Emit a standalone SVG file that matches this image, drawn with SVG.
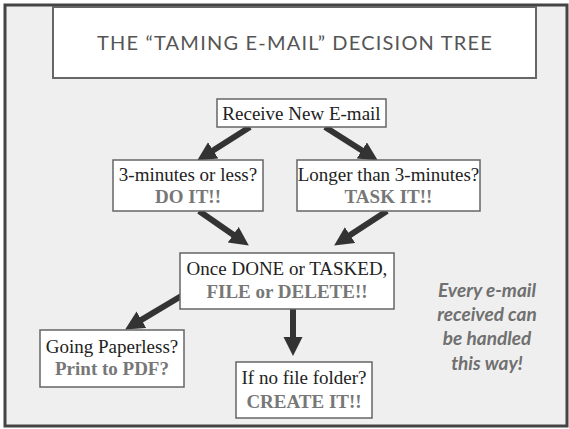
<svg xmlns="http://www.w3.org/2000/svg" width="569" height="429" viewBox="0 0 569 429">
<style>
.box{fill:#fff;stroke:#666;stroke-width:1.5}
.t{font-family:"Liberation Serif","Times New Roman",serif;font-size:19px;fill:#222;text-anchor:middle}
.b{font-family:"Liberation Serif","Times New Roman",serif;font-size:19px;font-weight:bold;fill:#777;text-anchor:middle}
.arr{stroke:#333;stroke-width:6;fill:none;marker-end:url(#ah)}
.side{font-family:Lato,"Open Sans",sans-serif;font-size:19px;font-weight:bold;font-style:italic;fill:#707070;text-anchor:middle}
</style>
<defs>
<marker id="ah" markerUnits="userSpaceOnUse" markerWidth="20" markerHeight="20" refX="4" refY="9.5" orient="auto">
<path d="M0,0 L19,9.5 L0,19 z" fill="#333"/>
</marker>
</defs>
<rect x="0" y="0" width="569" height="429" fill="#fff"/>
<rect x="5" y="5" width="562" height="421" fill="#efefef" stroke="#444" stroke-width="3"/>
<g id="title">
<rect x="53" y="7" width="483" height="71" fill="#fff" stroke="#666" stroke-width="2"/>
<text x="295" y="50" font-family="Lato,'Open Sans',sans-serif" font-size="20" fill="#555" text-anchor="middle" letter-spacing="1.2">THE “TAMING E-MAIL” DECISION TREE</text>
</g>
<g id="connectors">
<line class="arr" x1="250" y1="127" x2="209.8" y2="152.5"/>
<line class="arr" x1="325" y1="127" x2="365.2" y2="152.5"/>
<line class="arr" x1="199" y1="211" x2="236.5" y2="237"/>
<line class="arr" x1="387" y1="211" x2="346.7" y2="237.3"/>
<line class="arr" x1="183" y1="295" x2="138" y2="321.8"/>
<line class="arr" x1="293" y1="309" x2="293" y2="341"/>
</g>
<g id="receive">
<rect class="box" x="217" y="99" width="169" height="28"/>
<text class="t" x="301.5" y="120">Receive New E-mail</text>
</g>
<g id="short">
<rect class="box" x="113" y="160" width="150" height="51"/>
<text class="t" x="188" y="181">3-minutes or less?</text>
<text class="b" x="188" y="203">DO IT!!</text>
</g>
<g id="long">
<rect class="box" x="297" y="160" width="183" height="51"/>
<text class="t" x="388.5" y="181">Longer than 3-minutes?</text>
<text class="b" x="388.5" y="203">TASK IT!!</text>
</g>
<g id="once">
<rect class="box" x="180" y="253" width="214" height="56"/>
<text class="t" x="287" y="275">Once DONE or TASKED,</text>
<text class="b" x="287" y="298">FILE or DELETE!!</text>
</g>
<g id="paperless">
<rect class="box" x="40" y="330" width="144" height="57"/>
<text class="t" x="112" y="353">Going Paperless?</text>
<text class="b" x="112" y="375">Print to PDF?</text>
</g>
<g id="folder">
<rect class="box" x="236" y="362" width="136" height="56"/>
<text class="t" x="304" y="384">If no file folder?</text>
<text class="b" x="304" y="408">CREATE IT!!</text>
</g>
<g id="note">
<text class="side" x="487" y="297">Every e-mail</text>
<text class="side" x="487" y="321">received can</text>
<text class="side" x="487" y="345">be handled</text>
<text class="side" x="487" y="370">this way!</text>
</g>
</svg>
